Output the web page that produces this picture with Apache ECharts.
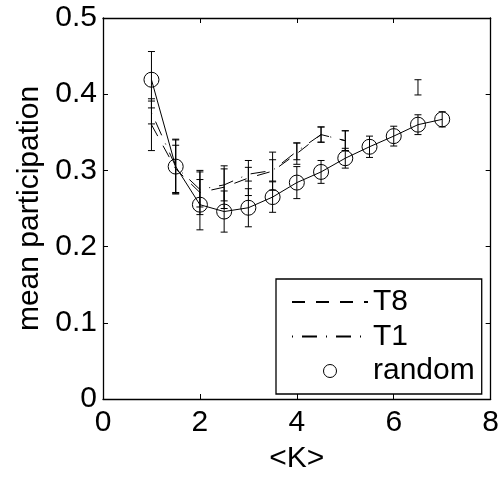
<!DOCTYPE html>
<html>
<head>
<meta charset="utf-8">
<script src="https://cdn.jsdelivr.net/npm/echarts@6/dist/echarts.min.js"></script>
<style>html,body{margin:0;padding:0;background:#fff;}#c{width:502px;height:479px;}</style>
</head>
<body>
<div id="c"></div>
<script>
var K = [1, 1.5, 2, 2.5, 3, 3.5, 4, 4.5, 5, 5.5, 6, 6.5, 7];
var randomMean = [0.419, 0.305, 0.255, 0.246, 0.251, 0.265, 0.284, 0.298, 0.316, 0.331, 0.345, 0.360, 0.367];
var randomErr  = [0.037, 0.036, 0.033, 0.027, 0.025, 0.020, 0.021, 0.015, 0.013, 0.014, 0.013, 0.013, 0.010];
var t8Mean = [0.360, 0.302, 0.271, 0.278, 0.290, 0.299, 0.322, 0.347, 0.339, null, null, 0.409, null];
var t8Err  = [0.034, 0.031, 0.029, 0.028, 0.023, 0.025, 0.014, 0.010, 0.013, null, null, 0.010, null];
var t1Mean = [0.376, 0.305, 0.275, 0.281, 0.295, 0.300, 0.325, 0.347, 0.339, null, null, null, null];
var t1Err  = [0.015, 0.035, 0.023, 0.021, 0.009, 0.014, 0.011, 0.010, 0.013, null, null, null, null];
var xTicks = [0, 2, 4, 6, 8];
var yTicks = [0, 0.1, 0.2, 0.3, 0.4, 0.5];

var FONT = 'Liberation Sans, Arial, Helvetica, sans-serif';
var FS = 30;

function pairs(m) {
  return K.map(function (k, i) { return [k, m[i]]; });
}
function errData(m, e) {
  var out = [];
  K.forEach(function (k, i) {
    if (m[i] != null && e[i] != null) out.push([k, m[i] - e[i], m[i] + e[i]]);
  });
  return out;
}
function errSeries(m, e, name) {
  return {
    type: 'custom',
    name: name + '_err',
    z: 5,
    silent: true,
    data: errData(m, e),
    encode: { x: 0, y: [1, 2] },
    renderItem: function (params, api) {
      var x = api.value(0);
      var lo = api.coord([x, api.value(1)]);
      var hi = api.coord([x, api.value(2)]);
      var cw = 3.5;
      var st = { stroke: '#000', lineWidth: 1 };
      return {
        type: 'group',
        children: [
          { type: 'line', shape: { x1: lo[0], y1: lo[1], x2: hi[0], y2: hi[1] }, style: st },
          { type: 'line', shape: { x1: lo[0] - cw, y1: lo[1], x2: lo[0] + cw, y2: lo[1] }, style: st },
          { type: 'line', shape: { x1: hi[0] - cw, y1: hi[1], x2: hi[0] + cw, y2: hi[1] }, style: st }
        ]
      };
    }
  };
}

var chart = echarts.init(document.getElementById('c'), null, { renderer: 'canvas' });
var axisLineStyle = { color: '#000', width: 1.3 };
var hiddenSym = { color: 'rgba(0,0,0,0)', borderColor: 'rgba(0,0,0,0)', borderWidth: 0 };
chart.setOption({
  animation: false,
  backgroundColor: '#fff',
  textStyle: { fontFamily: FONT },
  grid: { left: 103, top: 18, right: 9, bottom: 71, containLabel: false },
  xAxis: [
    {
      type: 'value', min: xTicks[0], max: xTicks[xTicks.length - 1], interval: 2,
      position: 'bottom',
      name: '<K>', nameLocation: 'middle', nameGap: 45,
      nameTextStyle: { color: '#000', fontSize: FS, fontFamily: FONT },
      axisLine: { show: true, onZero: false, lineStyle: axisLineStyle },
      axisTick: { show: true, inside: true, length: 5, lineStyle: { color: '#000' } },
      axisLabel: { color: '#000', fontSize: FS, fontFamily: FONT, margin: 9 },
      splitLine: { show: false }
    },
    {
      type: 'value', min: xTicks[0], max: xTicks[xTicks.length - 1], interval: 2,
      position: 'top',
      axisLine: { show: true, onZero: false, lineStyle: axisLineStyle },
      axisTick: { show: true, inside: true, length: 5, lineStyle: { color: '#000' } },
      axisLabel: { show: false },
      splitLine: { show: false }
    }
  ],
  yAxis: [
    {
      type: 'value', min: yTicks[0], max: yTicks[yTicks.length - 1], interval: 0.1,
      position: 'left',
      name: 'mean participation', nameLocation: 'middle', nameGap: 55,
      nameTextStyle: { color: '#000', fontSize: FS, fontFamily: FONT },
      axisLine: { show: true, onZero: false, lineStyle: axisLineStyle },
      axisTick: { show: true, inside: true, length: 5, lineStyle: { color: '#000' } },
      axisLabel: { color: '#000', fontSize: FS, fontFamily: FONT, margin: 6 },
      splitLine: { show: false }
    },
    {
      type: 'value', min: yTicks[0], max: yTicks[yTicks.length - 1], interval: 0.1,
      position: 'right',
      axisLine: { show: true, onZero: false, lineStyle: axisLineStyle },
      axisTick: { show: true, inside: true, length: 5, lineStyle: { color: '#000' } },
      axisLabel: { show: false },
      splitLine: { show: false }
    }
  ],
  legend: {
    orient: 'vertical',
    left: 276, top: 279,
    padding: [8, 7, 8, 15],
    itemWidth: 76, itemHeight: 13, itemGap: 4.5,
    backgroundColor: '#fff',
    borderColor: '#000', borderWidth: 1.3, borderRadius: 0,
    textStyle: { color: '#000', fontSize: FS, lineHeight: 30, fontFamily: FONT },
    selectedMode: false,
    data: [
      { name: 'T8', itemStyle: hiddenSym },
      { name: 'T1', itemStyle: hiddenSym },
      { name: 'random', icon: 'circle', itemStyle: { color: 'rgba(0,0,0,0)', borderColor: '#000', borderWidth: 1 } }
    ]
  },
  series: [
    {
      type: 'line', name: 'T8', data: pairs(t8Mean), symbol: 'none', z: 3,
      lineStyle: { color: '#000', width: 1, type: [13, 11] },
      itemStyle: { color: '#000' }
    },
    {
      type: 'line', name: 'T1', data: pairs(t1Mean), symbol: 'none', z: 3,
      lineStyle: { color: '#000', width: 1, type: [1, 9, 15, 9] },
      itemStyle: { color: '#000' }
    },
    {
      type: 'line', name: 'random', data: pairs(randomMean), z: 4,
      symbol: 'circle', symbolSize: 15,
      lineStyle: { color: '#000', width: 1 },
      itemStyle: { color: 'rgba(0,0,0,0)', borderColor: '#000', borderWidth: 1 }
    },
    errSeries(t8Mean, t8Err, 'T8'),
    errSeries(t1Mean, t1Err, 'T1'),
    errSeries(randomMean, randomErr, 'random')
  ]
});
</script>
</body>
</html>
